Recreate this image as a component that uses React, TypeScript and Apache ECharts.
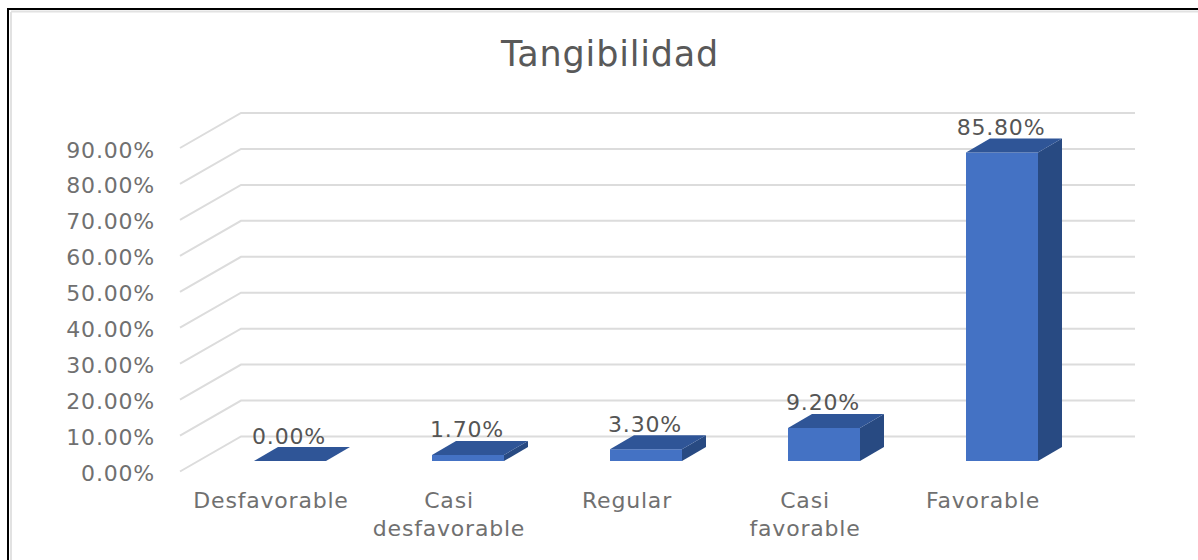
import React, { useEffect, useRef } from "react";
import * as echarts from "echarts";

const titleText = "Tangibilidad";
const categories = ["Desfavorable", "Casi\ndesfavorable", "Regular", "Casi\nfavorable", "Favorable"];
const values = [0, 1.7, 3.3, 9.2, 85.8];
const valueLabels = ["0.00%", "1.70%", "3.30%", "9.20%", "85.80%"];
const gridTicks = [0, 10, 20, 30, 40, 50, 60, 70, 80, 90];

const FONT = "'DejaVu Sans'";
const GRID_LEFT = 182, GRID_WIDTH = 890, GRID_TOP = 150, GRID_BOTTOM_Y = 473.5;
const LINE_SHIFT_Y = -2;
const WALL_DX = 61, WALL_DY = -35, FLOOR_W = 894;
const BAR_W = 72, BAR_SHIFT_X = 19, BAR_SHIFT_Y = -12.5, DEPTH_X = 24, DEPTH_Y = -14;

export default function App() {
  const ref = useRef<HTMLDivElement>(null);
  useEffect(() => {
    const chart = echarts.init(ref.current!, undefined, { renderer: "svg" });
    chart.setOption({
      animation: false,
      backgroundColor: "#ffffff",
      title: {
        text: titleText,
        left: 605,
        top: 31,
        textAlign: "center",
        textStyle: { fontFamily: FONT, fontSize: 35, fontWeight: "normal", color: "#595959" },
      },
      grid: { left: GRID_LEFT, width: GRID_WIDTH, top: GRID_TOP, height: GRID_BOTTOM_Y - GRID_TOP },
      xAxis: {
        type: "category",
        data: categories,
        axisLine: { show: false },
        axisTick: { show: false },
        axisLabel: {
          interval: 0,
          margin: 13,
          fontFamily: FONT,
          fontSize: 22,
          lineHeight: 28,
          color: "#707070",
        },
      },
      yAxis: {
        type: "value",
        min: 0,
        max: 90,
        interval: 10,
        axisLine: { show: false },
        axisTick: { show: false },
        splitLine: { show: false },
        axisLabel: {
          margin: 27,
          fontFamily: FONT,
          fontSize: 22,
          color: "#707070",
          formatter: (v: number) => v.toFixed(2) + "%",
        },
      },
      graphic: [
        { type: "line", silent: true, shape: { x1: 8, y1: 9, x2: 8, y2: 560 }, style: { stroke: "#000", lineWidth: 2 } },
        { type: "line", silent: true, shape: { x1: 7, y1: 9, x2: 1198, y2: 9 }, style: { stroke: "#000", lineWidth: 2 } },
        { type: "line", silent: true, shape: { x1: 11, y1: 12, x2: 11, y2: 560 }, style: { stroke: "#e2e2e2", lineWidth: 2 } },
        { type: "line", silent: true, shape: { x1: 11, y1: 11.5, x2: 1198, y2: 11.5 }, style: { stroke: "#e2e2e2", lineWidth: 2 } },
      ],
      series: [
        {
          type: "custom",
          silent: true,
          z: 1,
          clip: false,
          data: gridTicks.map((t) => [0, t]),
          encode: { x: 0, y: 1 },
          renderItem: (params: any, api: any) => {
            const p = api.coord([0, api.value(1)]);
            const x0 = (params.coordSys.x as number) - 2;
            const y0 = p[1] + LINE_SHIFT_Y;
            return {
              type: "polyline",
              shape: {
                points: [
                  [x0, y0],
                  [x0 + WALL_DX, y0 + WALL_DY],
                  [x0 + WALL_DX + FLOOR_W, y0 + WALL_DY],
                ],
              },
              style: { fill: "none", stroke: "#dcdcdc", lineWidth: 2 },
            };
          },
        },
        {
          type: "custom",
          silent: true,
          z: 2,
          clip: false,
          data: values.map((v, i) => [i, v]),
          encode: { x: 0, y: 1 },
          renderItem: (params: any, api: any) => {
            const idx = api.value(0);
            const top = api.coord([idx, api.value(1)]);
            const base = api.coord([idx, 0]);
            const l = top[0] + BAR_SHIFT_X - BAR_W / 2;
            const r = l + BAR_W;
            const t = top[1] + BAR_SHIFT_Y;
            const b = base[1] + BAR_SHIFT_Y;
            const children: any[] = [];
            if (b - t > 0.5) {
              children.push({
                type: "polygon",
                shape: { points: [[r, t], [r + DEPTH_X, t + DEPTH_Y], [r + DEPTH_X, b + DEPTH_Y], [r, b]] },
                style: { fill: "#284a82" },
              });
              children.push({
                type: "rect",
                shape: { x: l, y: t, width: BAR_W, height: b - t },
                style: { fill: "#4472c4" },
              });
            }
            children.push({
              type: "polygon",
              shape: { points: [[l, t], [l + DEPTH_X, t + DEPTH_Y], [r + DEPTH_X, t + DEPTH_Y], [r, t]] },
              style: { fill: "#2f5597" },
            });
            children.push({
              type: "text",
              style: {
                text: valueLabels[params.dataIndex],
                x: (l + r) / 2 - 1,
                y: t - 25,
                align: "center",
                verticalAlign: "middle",
                fontFamily: FONT,
                fontSize: 22,
                fill: "#555555",
              },
            });
            return { type: "group", children };
          },
        },
      ],
    });
    return () => chart.dispose();
  }, []);
  return (
    <div
      ref={ref}
      style={{ position: "fixed", left: 0, top: 0, width: 1198, height: 560, letterSpacing: "0.8px" }}
    />
  );
}
